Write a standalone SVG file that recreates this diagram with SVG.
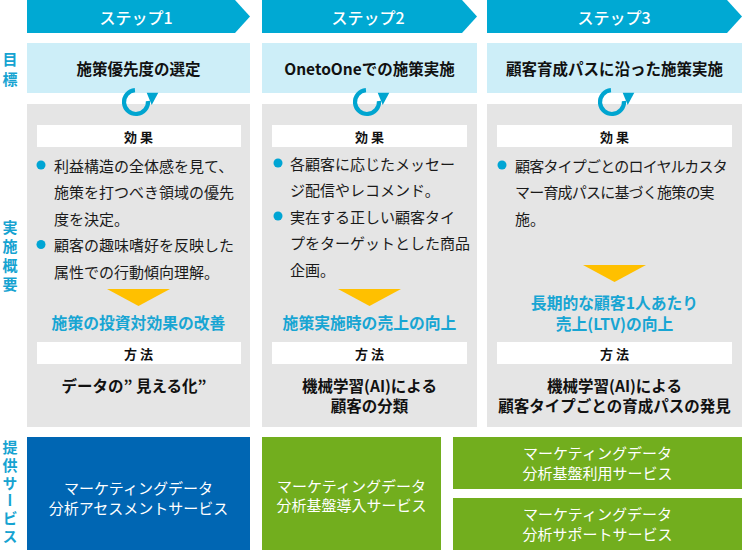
<svg xmlns="http://www.w3.org/2000/svg" width="742" height="550" viewBox="0 0 742 550">
<style>
text{font-family:"Noto Sans CJK JP","Noto Sans",sans-serif;}
.hd{fill:#00a9d3;}
.hdt{fill:#fff;font-size:16px;font-weight:500;text-anchor:middle;dominant-baseline:central;}
.goal{fill:#cdeef8;}
.goalt{fill:#111;font-size:15.5px;font-weight:700;text-anchor:middle;dominant-baseline:central;}
.gray{fill:#e5e5e5;}
.bar{fill:#fff;}
.bart{fill:#111;font-size:13px;font-weight:700;text-anchor:middle;dominant-baseline:central;}
.bt{fill:#1a1a1a;font-size:15px;dominant-baseline:central;}
.dot{fill:#00a5d4;}
.tri{fill:#ffc000;}
.res{fill:#18a5d3;font-size:15.8px;font-weight:700;text-anchor:middle;dominant-baseline:central;}
.mt{fill:#111;font-size:15.5px;font-weight:700;text-anchor:middle;dominant-baseline:central;}
.lab{fill:#16a3d1;font-size:15px;font-weight:700;writing-mode:vertical-rl;}
.svc{font-size:15px;fill:#fff;text-anchor:middle;dominant-baseline:central;}
.ic{fill:none;stroke:#00a5d0;stroke-width:4.2;}
.ich{fill:#00a5d0;}
</style>
<defs>
<g id="cyc">
<path class="ic" d="M -1.05 -11.95 A 12 12 0 1 0 11.95 -1.05"/>
<polygon class="ich" points="10.7,-9.3 22.3,-9.3 15.7,3"/>
</g>
</defs>

<!-- left labels -->
<g id="labels">
<text class="lab" x="10" y="52" style="letter-spacing:5px">目標</text>
<text class="lab" x="10" y="220" style="letter-spacing:4px">実施概要</text>
<text class="lab" x="10" y="440" style="letter-spacing:2.7px">提供サービス</text>
</g>

<!-- Step 1 -->
<g id="step1">
<polygon class="hd" points="27,0 235,0 250,16.5 235,33 27,33"/>
<text class="hdt" x="136" y="16.5">ステップ1</text>
<rect class="goal" x="27" y="43" width="223" height="50"/>
<text class="goalt" x="138.5" y="68">施策優先度の選定</text>
<rect class="gray" x="27" y="104" width="223" height="323"/>
<use href="#cyc" x="136" y="102"/>
<rect class="bar" x="37" y="125" width="204" height="22"/>
<text class="bart" x="138.5" y="136">効 果</text>
<circle class="dot" cx="41" cy="165" r="4.5"/>
<text class="bt" x="54" y="165">利益構造の全体感を見て、</text>
<text class="bt" x="54" y="191.5">施策を打つべき領域の優先</text>
<text class="bt" x="54" y="218">度を決定。</text>
<circle class="dot" cx="41" cy="244.5" r="4.5"/>
<text class="bt" x="54" y="244.5">顧客の趣味嗜好を反映した</text>
<text class="bt" x="54" y="271">属性での行動傾向理解。</text>
<polygon class="tri" points="107,289 170,289 138.5,306"/>
<text class="res" x="138.5" y="322">施策の投資対効果の改善</text>
<rect class="bar" x="37" y="342" width="204" height="22"/>
<text class="bart" x="138.5" y="353">方 法</text>
<text class="mt" x="134" y="385">データの” 見える化”</text>
</g>

<!-- Step 2 -->
<g id="step2">
<polygon class="hd" points="262,0 462,0 477,16.5 462,33 262,33"/>
<text class="hdt" x="368" y="16.5">ステップ2</text>
<rect class="goal" x="262" y="43" width="215" height="50"/>
<text class="goalt" x="369.5" y="68">OnetoOneでの施策実施</text>
<rect class="gray" x="262" y="104" width="215" height="323"/>
<use href="#cyc" x="367" y="102"/>
<rect class="bar" x="272" y="125" width="195" height="22"/>
<text class="bart" x="369.5" y="136">効 果</text>
<circle class="dot" cx="278" cy="163" r="4.5"/>
<text class="bt" x="290" y="163">各顧客に応じたメッセー</text>
<text class="bt" x="290" y="189.5">ジ配信やレコメンド。</text>
<circle class="dot" cx="278" cy="216" r="4.5"/>
<text class="bt" x="290" y="216">実在する正しい顧客タイ</text>
<text class="bt" x="290" y="242.5">プをターゲットとした商品</text>
<text class="bt" x="290" y="269">企画。</text>
<polygon class="tri" points="338,289 401,289 369.5,306"/>
<text class="res" x="369.5" y="322">施策実施時の売上の向上</text>
<rect class="bar" x="272" y="342" width="195" height="22"/>
<text class="bart" x="369.5" y="353">方 法</text>
<text class="mt" x="369.5" y="385">機械学習(AI)による</text>
<text class="mt" x="369.5" y="405">顧客の分類</text>
</g>

<!-- Step 3 -->
<g id="step3">
<polygon class="hd" points="487,0 727,0 742,16.5 727,33 487,33"/>
<text class="hdt" x="614" y="16.5">ステップ3</text>
<rect class="goal" x="487" y="43" width="255" height="50"/>
<text class="goalt" x="614.5" y="68">顧客育成パスに沿った施策実施</text>
<rect class="gray" x="487" y="104" width="255" height="323"/>
<use href="#cyc" x="612" y="102"/>
<rect class="bar" x="497" y="125" width="235" height="22"/>
<text class="bart" x="614.5" y="136">効 果</text>
<circle class="dot" cx="502" cy="165" r="4.5"/>
<text class="bt" x="515" y="165" style="letter-spacing:-0.8px">顧客タイプごとのロイヤルカスタ</text>
<text class="bt" x="515" y="191.5" style="letter-spacing:-0.8px">マー育成パスに基づく施策の実</text>
<text class="bt" x="515" y="218">施。</text>
<polygon class="tri" points="583,265 646,265 614.5,282"/>
<text class="res" x="614.5" y="302">長期的な顧客1人あたり</text>
<text class="res" x="614.5" y="323">売上(LTV)の向上</text>
<rect class="bar" x="497" y="342" width="235" height="22"/>
<text class="bart" x="614.5" y="353">方 法</text>
<text class="mt" x="614.5" y="385">機械学習(AI)による</text>
<text class="mt" x="614.5" y="405">顧客タイプごとの育成パスの発見</text>
</g>

<!-- Services -->
<g id="svc1">
<rect x="27" y="437" width="223" height="113" fill="#0066b3"/>
<text class="svc" x="138.5" y="487">マーケティングデータ</text>
<text class="svc" x="138.5" y="507">分析アセスメントサービス</text>
</g>
<g id="svc2">
<rect x="262" y="437" width="179" height="113" fill="#72ae1e"/>
<text class="svc" x="351.5" y="485">マーケティングデータ</text>
<text class="svc" x="351.5" y="504">分析基盤導入サービス</text>
</g>
<g id="svc3">
<rect x="453" y="437" width="289" height="52" fill="#72ae1e"/>
<text class="svc" x="597.5" y="452">マーケティングデータ</text>
<text class="svc" x="597.5" y="472">分析基盤利用サービス</text>
</g>
<g id="svc4">
<rect x="453" y="498" width="289" height="52" fill="#72ae1e"/>
<text class="svc" x="597.5" y="513">マーケティングデータ</text>
<text class="svc" x="597.5" y="533">分析サポートサービス</text>
</g>
<g id="connectors"></g>
</svg>
